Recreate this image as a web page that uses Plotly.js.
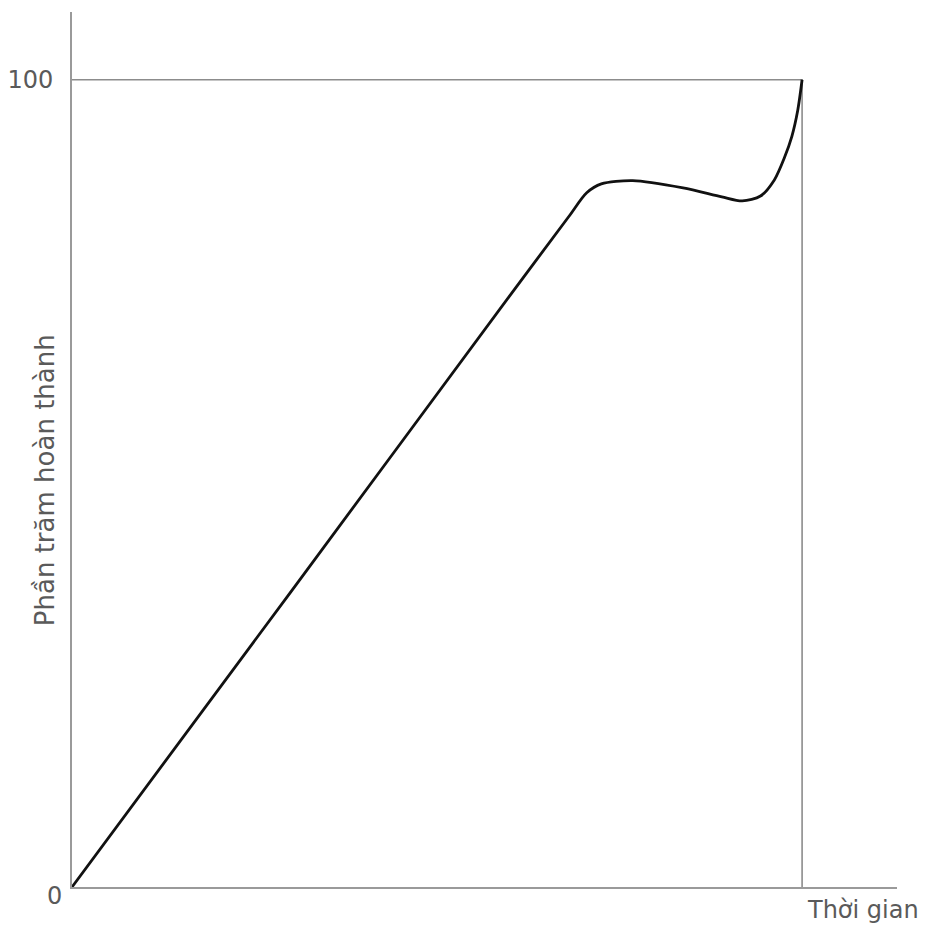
<!DOCTYPE html>
<html>
<head>
<meta charset="utf-8">
<script src="https://cdn.plot.ly/plotly-3.0.1.min.js"></script>
<style>html,body{margin:0;padding:0;background:#fff;}#chart{width:931px;height:929px;}</style>
</head>
<body>
<div id="chart"></div>
<script>
// Time (percent of planned duration) and percent complete
const timeValues = [0, 30, 60, 68, 70.5, 72.5, 76.8, 83.7, 89, 91.8, 94.3, 96.2, 97.6, 98.6, 99.4, 100];
const completeValues = [0, 36.6, 73.3, 83.0, 86.0, 87.1, 87.5, 86.6, 85.5, 85.0, 85.6, 87.6, 90.4, 93.0, 96.2, 100];
// Reference lines: 100% level and end of time
const refX = [0, 100, 100];
const refY = [100, 100, 0];
const yTickVals = [100];
const yTickText = ['100'];
const xTitle = 'Thời gian';
const yTitle = 'Phần trăm hoàn thành';

const FONT = 'DejaVu Sans, Liberation Sans, Arial, sans-serif';
const TXT = '#5a5a5a';

const traces = [
  {x: refX, y: refY, mode: 'lines', line: {color: '#8c8c8c', width: 1.6}, hoverinfo: 'skip', showlegend: false},
  {x: timeValues, y: completeValues, mode: 'lines', line: {color: '#111111', width: 2.8, shape: 'spline', smoothing: 0.8}, showlegend: false}
];

const layout = {
  width: 931, height: 929,
  margin: {l: 72, r: 34, t: 12, b: 42},
  paper_bgcolor: '#ffffff', plot_bgcolor: '#ffffff',
  font: {family: FONT, color: TXT, size: 24},
  xaxis: {range: [0, 113], showgrid: false, zeroline: false, showline: true, linecolor: '#9a9a9a', linewidth: 2, showticklabels: false, ticks: ''},
  yaxis: {range: [0, 108.4], showgrid: false, zeroline: false, showline: true, linecolor: '#9a9a9a', linewidth: 2, tickvals: yTickVals, ticktext: yTickText, ticks: '', ticklabelstandoff: 12, tickfont: {family: FONT, size: 24, color: TXT}},
  annotations: [
    {x: 0, y: 0, xref: 'x', yref: 'y', text: '0', showarrow: false, xanchor: 'right', yanchor: 'middle', xshift: -8, yshift: -9, font: {family: FONT, size: 24, color: TXT}},
    {x: 100, y: 0, xref: 'x', yref: 'y', text: xTitle, showarrow: false, xanchor: 'left', yanchor: 'middle', xshift: 3, yshift: -23, font: {family: FONT, size: 24, color: TXT}},
    {x: 0, y: 50.4, xref: 'x', yref: 'y', text: yTitle, showarrow: false, textangle: -90, xanchor: 'center', yanchor: 'middle', xshift: -27, font: {family: FONT, size: 26, color: TXT}}
  ]
};

Plotly.newPlot('chart', traces, layout, {displayModeBar: false, staticPlot: true});
</script>
</body>
</html>
